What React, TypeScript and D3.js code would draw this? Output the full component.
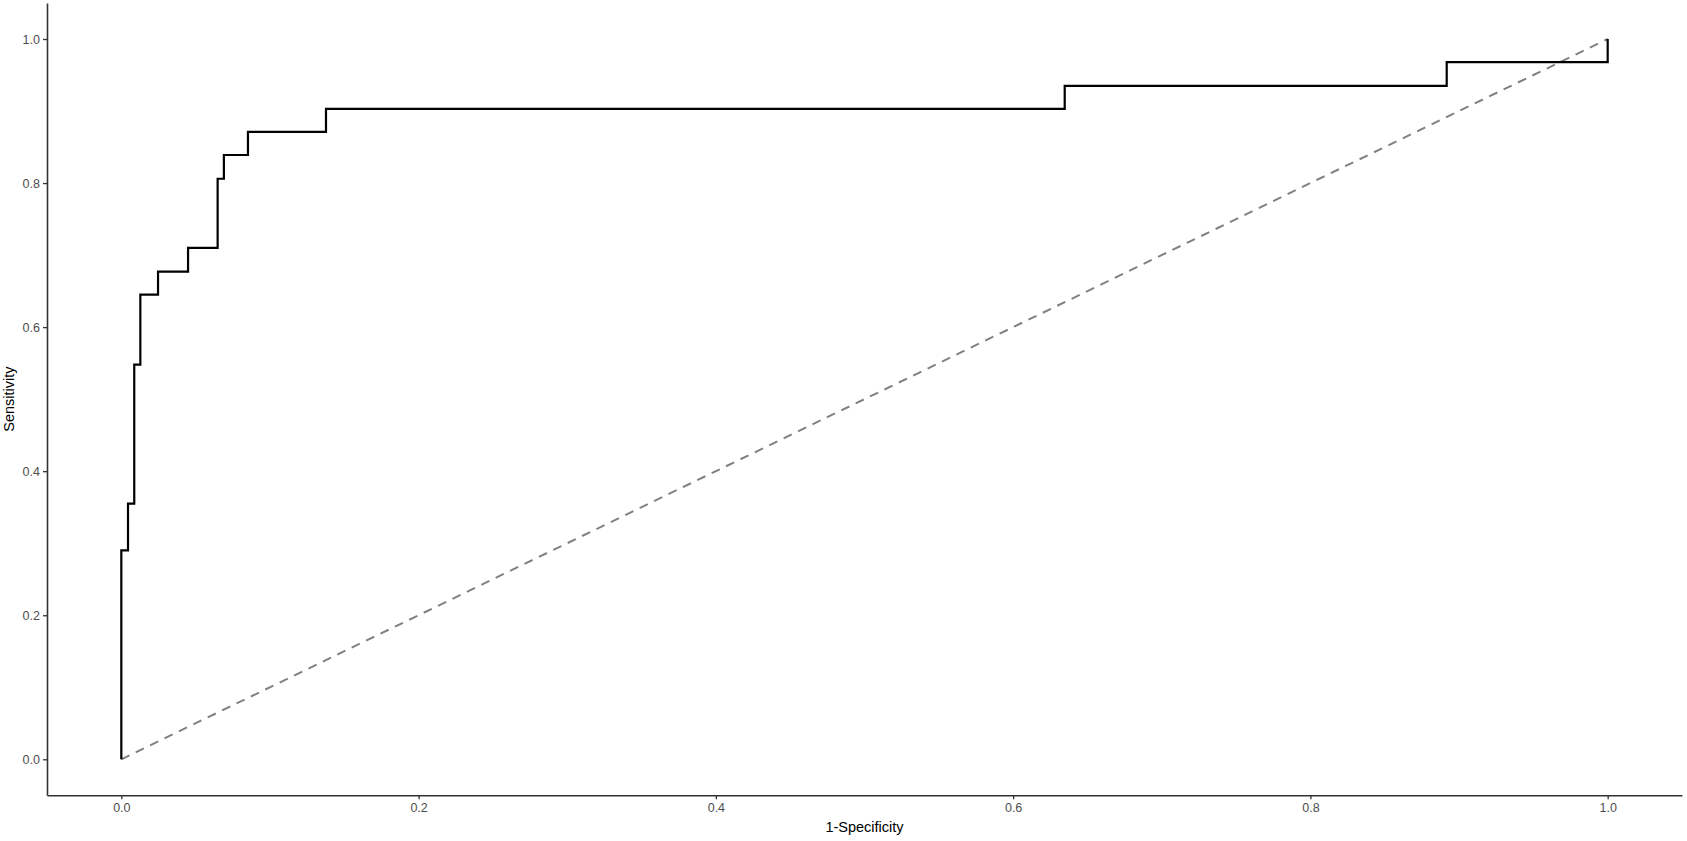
import React, { useEffect, useRef } from "react";
import * as d3 from "d3";

// ROC corner points (1-specificity, sensitivity)
const fpr = [0, 0, 0.0045, 0.0087, 0.0128, 0.0247, 0.0449, 0.0648, 0.069, 0.0852, 0.1377, 0.6347, 0.8917, 1];
const tpr = [0, 0.29, 0.355, 0.548, 0.645, 0.677, 0.71, 0.806, 0.839, 0.871, 0.903, 0.935, 0.968, 1];
const refLine = [0, 1];
const xTicks = [0, 0.2, 0.4, 0.6, 0.8, 1.0];
const yTicks = [0, 0.2, 0.4, 0.6, 0.8, 1.0];
const xLabel = "1-Specificity";
const yLabel = "Sensitivity";

const width = 1687;
const height = 841;

const App = () => {
  const svgRef = useRef<SVGSVGElement | null>(null);

  useEffect(() => {
    const svg = d3.select(svgRef.current);
    svg.selectAll("*").remove();

    const margin = { top: 3, right: 5, bottom: 45.7, left: 47 };
    const innerWidth = width - margin.left - margin.right;
    const innerHeight = height - margin.top - margin.bottom;

    // ggplot style 5% expansion
    const x = d3.scaleLinear().domain([-0.05, 1.05]).range([0, innerWidth]);
    const y = d3.scaleLinear().domain([-0.05, 1.05]).range([innerHeight, 0]);

    const root = svg
      .append("g")
      .attr("transform", `translate(${margin.left}, ${margin.top})`);

    root.append("line")
      .attr("x1", x(refLine[0]))
      .attr("y1", y(refLine[0]))
      .attr("x2", x(refLine[1]))
      .attr("y2", y(refLine[1]))
      .attr("stroke", "#808080")
      .attr("stroke-width", 2)
      .attr("stroke-dasharray", "9 7");

    const pts = fpr.map((f, i) => [f, tpr[i]] as [number, number]);
    const line = d3.line<[number, number]>()
      .curve(d3.curveStepAfter)
      .x((d) => x(d[0]))
      .y((d) => y(d[1]));

    root.append("path")
      .attr("d", line(pts))
      .attr("fill", "none")
      .attr("stroke", "#000")
      .attr("stroke-width", 2.2)
      .attr("stroke-linejoin", "miter");

    const xAxis = root.append("g")
      .attr("transform", `translate(0, ${innerHeight})`)
      .call(d3.axisBottom(x).tickValues(xTicks).tickFormat(d3.format(".1f")).tickSizeOuter(0).tickSizeInner(4).tickPadding(4));

    const yAxis = root.append("g")
      .call(d3.axisLeft(y).tickValues(yTicks).tickFormat(d3.format(".1f")).tickSizeOuter(0).tickSizeInner(4).tickPadding(3));

    [xAxis, yAxis].forEach((ax) => {
      ax.select(".domain").attr("stroke", "#333").attr("stroke-width", 1.6);
      ax.selectAll(".tick line").attr("stroke", "#333").attr("stroke-width", 1.3);
      ax.selectAll("text")
        .attr("fill", "#4d4d4d")
        .attr("font-size", 12.5)
        .attr("font-family", "Liberation Sans, Arial, sans-serif");
    });

    root.append("text")
      .attr("x", innerWidth / 2)
      .attr("y", innerHeight + 37)
      .attr("text-anchor", "middle")
      .attr("font-size", 14.5)
      .attr("font-family", "Liberation Sans, Arial, sans-serif")
      .attr("fill", "#000")
      .text(xLabel);

    root.append("text")
      .attr("transform", `translate(${-33}, ${innerHeight / 2}) rotate(-90)`)
      .attr("text-anchor", "middle")
      .attr("font-size", 14.5)
      .attr("font-family", "Liberation Sans, Arial, sans-serif")
      .attr("fill", "#000")
      .text(yLabel);
  }, []);

  return (
    <svg
      ref={svgRef}
      width={width}
      height={height}
      style={{ position: "absolute", left: 0, top: 0, display: "block", background: "#fff" }}
      role="img"
      aria-label="ROC curve"
    />
  );
};

export default App;
